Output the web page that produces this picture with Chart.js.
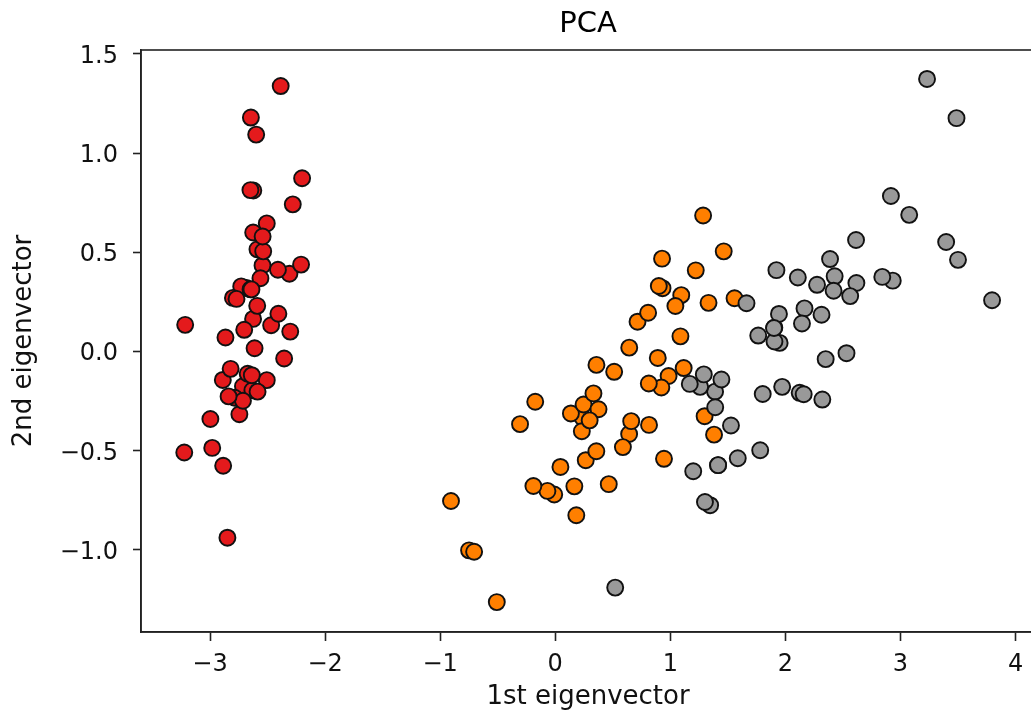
<!DOCTYPE html>
<html>
<head>
<meta charset="utf-8">
<title>PCA</title>
<script src="https://cdn.jsdelivr.net/npm/chart.js@4/dist/chart.umd.min.js"></script>
<style>
  html, body { margin: 0; padding: 0; background: #fff; overflow: hidden; }
  #wrap { width: 1045px; height: 718px; }
</style>
</head>
<body>
<div id="wrap"><canvas id="pca" width="1045" height="718"></canvas></div>
<script>
// Iris projected on the first two principal components
const setosaPc1 = [-2.684, -2.714, -2.889, -2.745, -2.729, -2.281, -2.821, -2.626, -2.886, -2.673,
  -2.507, -2.613, -2.786, -3.224, -2.645, -2.386, -2.624, -2.648, -2.200, -2.588,
  -2.310, -2.544, -3.216, -2.303, -2.356, -2.507, -2.469, -2.562, -2.640, -2.632,
  -2.587, -2.410, -2.649, -2.599, -2.637, -2.866, -2.625, -2.801, -2.981, -2.590,
  -2.770, -2.849, -2.997, -2.406, -2.209, -2.714, -2.538, -2.839, -2.543, -2.703];
const setosaPc2 = [0.319, -0.177, -0.145, -0.318, 0.327, 0.741, -0.089, 0.163, -0.578, -0.114,
  0.645, 0.015, -0.235, -0.511, 1.179, 1.338, 0.811, 0.312, 0.873, 0.514,
  0.391, 0.433, 0.133, 0.099, -0.037, -0.146, 0.131, 0.368, 0.312, -0.197,
  -0.204, 0.411, 0.813, 1.093, -0.121, 0.069, 0.599, 0.269, -0.488, 0.229,
  0.264, -0.941, -0.342, 0.189, 0.437, -0.250, 0.504, -0.228, 0.579, 0.108];

const versicolorPc1 = [1.285, 0.932, 1.464, 0.183, 1.088, 0.642, 1.095, -0.749, 1.044, -0.009,
  -0.508, 0.512, 0.265, 0.985, -0.174, 0.928, 0.660, 0.236, 0.945, 0.045,
  1.116, 0.358, 1.298, 0.922, 0.715, 0.900, 1.332, 1.558, 0.813, -0.306,
  -0.068, -0.190, 0.136, 1.380, 0.588, 0.807, 1.221, 0.815, 0.246, 0.166,
  0.465, 0.891, 0.231, -0.705, 0.357, 0.332, 0.376, 0.643, -0.906, 0.299];
const versicolorPc2 = [0.685, 0.318, 0.504, -0.828, 0.075, -0.418, 0.283, -1.005, 0.228, -0.723,
  -1.266, -0.104, -0.550, -0.125, -0.255, 0.467, -0.353, -0.334, -0.543, -0.584,
  -0.085, -0.069, -0.328, -0.183, 0.149, 0.329, 0.244, 0.267, -0.163, -0.368,
  -0.705, -0.680, -0.314, -0.421, -0.484, 0.194, 0.408, -0.372, -0.269, -0.682,
  -0.671, -0.034, -0.404, -1.012, -0.505, -0.213, -0.293, 0.018, -0.756, -0.349];

const virginicaPc1 = [2.531, 1.415, 2.617, 1.972, 2.350, 3.397, 0.521, 2.933, 2.321, 2.917,
  1.662, 1.803, 2.166, 1.346, 1.586, 1.904, 1.950, 3.487, 3.796, 1.301,
  2.428, 1.199, 3.500, 1.389, 2.275, 2.614, 1.259, 1.291, 2.124, 2.388,
  2.842, 3.231, 2.159, 1.444, 1.781, 3.076, 2.144, 1.905, 1.169, 2.108,
  2.314, 1.922, 1.415, 2.563, 2.419, 1.944, 1.527, 1.764, 1.901, 1.390];
const virginicaPc2 = [-0.010, -0.575, 0.344, -0.180, -0.040, 0.551, -1.193, 0.356, -0.244, 0.783,
  0.242, -0.216, 0.216, -0.777, -0.540, 0.119, 0.042, 1.176, 0.257, -0.761,
  0.378, -0.606, 0.461, -0.204, 0.335, 0.561, -0.180, -0.117, -0.210, 0.465,
  0.375, 1.374, -0.217, -0.143, -0.500, 0.688, 0.140, 0.049, -0.165, 0.372,
  0.184, 0.409, -0.575, 0.278, 0.305, 0.188, -0.375, 0.079, 0.117, -0.283];

const xTickStep = 1;
const yTickStep = 0.5;

// zip two coordinate arrays into {x, y} points
function toPoints(xs, ys) {
  return xs.map((x, i) => ({ x: x, y: ys[i] }));
}

function minusSign(str) {
  return str.replace('-', '\u2212');
}

const FONT = "'DejaVu Sans', 'Liberation Sans', sans-serif";
const SPINE = '#222';

// matplotlib style box: draw the top and right spines too
const frameBox = {
  id: 'frameBox',
  afterDatasetsDraw(chart) {
    const { ctx, chartArea } = chart;
    ctx.save();
    ctx.strokeStyle = SPINE;
    ctx.lineWidth = 1.6;
    ctx.strokeRect(chartArea.left, chartArea.top,
      chartArea.right - chartArea.left, chartArea.bottom - chartArea.top);
    ctx.restore();
  }
};

function makeSet(label, xs, ys, colour, order) {
  return {
    label: label,
    data: toPoints(xs, ys),
    backgroundColor: colour,
    borderColor: '#111',
    borderWidth: 1.9,
    pointRadius: 8,
    pointHoverRadius: 8,
    order: order
  };
}

new Chart(document.getElementById('pca'), {
  type: 'scatter',
  data: {
    datasets: [
      makeSet('setosa', setosaPc1, setosaPc2, '#e41a1c', 2),
      makeSet('versicolor', versicolorPc1, versicolorPc2, '#ff7f00', 1),
      makeSet('virginica', virginicaPc1, virginicaPc2, '#999999', 0)
    ]
  },
  options: {
    responsive: false,
    animation: false,
    events: [],
    // canvas is a bit wider than the window: the right spine falls just outside the picture
    layout: { padding: 0 },
    plugins: {
      legend: { display: false },
      tooltip: { enabled: false },
      title: {
        display: true,
        text: 'PCA',
        fullSize: false,
        color: '#000',
        font: { family: FONT, size: 29, weight: 'normal', lineHeight: 1.2 },
        padding: { top: 7.5, bottom: 7.7 }
      }
    },
    scales: {
      x: {
        type: 'linear',
        min: -3.6,
        max: 4.17,
        afterFit: scale => { scale.height = 86; },
        border: { display: true, color: SPINE, width: 1.6 },
        grid: { drawOnChartArea: false, drawTicks: true, tickLength: 9, tickColor: SPINE, tickWidth: 1.6 },
        ticks: {
          stepSize: xTickStep,
          includeBounds: false,
          padding: 9.5,
          color: '#111',
          font: { family: FONT, size: 24, lineHeight: 1.2 },
          callback: v => minusSign(String(v))
        },
        title: {
          display: true,
          text: '1st eigenvector',
          color: '#111',
          font: { family: FONT, size: 26, lineHeight: 1.2 },
          padding: { top: 0, bottom: 5.5 }
        }
      },
      y: {
        type: 'linear',
        min: -1.417,
        max: 1.52,
        afterFit: scale => { scale.width = 141; },
        border: { display: true, color: SPINE, width: 1.6 },
        grid: { drawOnChartArea: false, drawTicks: true, tickLength: 8, tickColor: SPINE, tickWidth: 1.6 },
        ticks: {
          stepSize: yTickStep,
          includeBounds: false,
          padding: 15,
          labelOffset: 3,
          color: '#111',
          font: { family: FONT, size: 24, lineHeight: 1.2 },
          callback: v => minusSign(v.toFixed(1))
        },
        title: {
          display: true,
          text: '2nd eigenvector',
          color: '#111',
          font: { family: FONT, size: 26, lineHeight: 1.2 },
          padding: { top: 9, bottom: 0 }
        }
      }
    }
  },
  plugins: [frameBox]
});
</script>
</body>
</html>
